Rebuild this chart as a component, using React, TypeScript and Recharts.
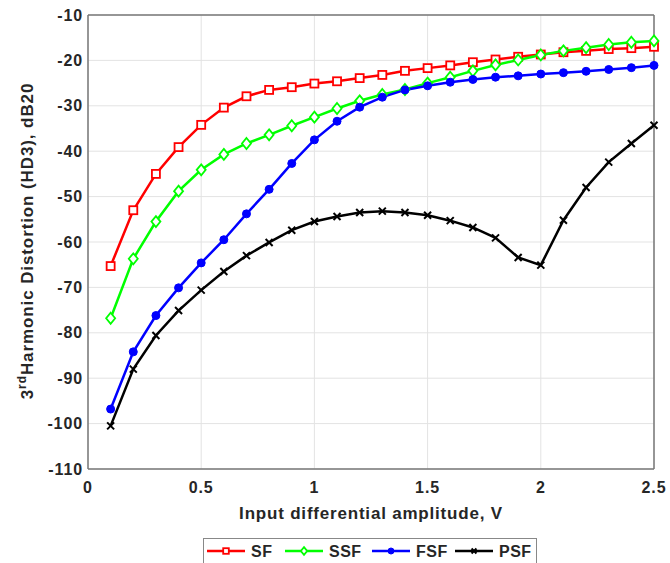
import React from 'react';
import { LineChart, Line, XAxis, YAxis, CartesianGrid } from 'recharts';

const amplitude = [0.1, 0.2, 0.3, 0.4, 0.5, 0.6, 0.7, 0.8, 0.9, 1.0, 1.1, 1.2, 1.3, 1.4, 1.5, 1.6, 1.7, 1.8, 1.9, 2.0, 2.1, 2.2, 2.3, 2.4, 2.5];

const sf = [-65.3, -53, -45, -39.1, -34.2, -30.4, -27.9, -26.5, -25.9, -25.1, -24.6, -23.9, -23.2, -22.3, -21.7, -21.1, -20.4, -19.8, -19.2, -18.7, -18.2, -17.9, -17.5, -17.3, -17.0];
const ssf = [-76.8, -63.7, -55.5, -48.8, -44.1, -40.7, -38.3, -36.4, -34.4, -32.5, -30.6, -28.9, -27.5, -26.4, -25.0, -23.7, -22.3, -21.0, -19.9, -18.8, -17.9, -17.2, -16.5, -16.0, -15.7];
const fsf = [-96.8, -84.2, -76.2, -70.1, -64.6, -59.5, -53.8, -48.4, -42.7, -37.5, -33.4, -30.3, -28.1, -26.5, -25.6, -24.8, -24.2, -23.7, -23.4, -23.0, -22.7, -22.4, -22.0, -21.6, -21.1];
const psf = [-100.5, -88.0, -80.6, -75.1, -70.6, -66.5, -63.0, -60.1, -57.4, -55.5, -54.4, -53.5, -53.2, -53.5, -54.1, -55.3, -56.8, -59.1, -63.4, -65.1, -55.2, -48.0, -42.4, -38.3, -34.3];

const xTicks = [0, 0.5, 1, 1.5, 2, 2.5];
const yTicks = [-110, -100, -90, -80, -70, -60, -50, -40, -30, -20, -10];

const data = amplitude.map((a, i) => ({ a, SF: sf[i], SSF: ssf[i], FSF: fsf[i], PSF: psf[i] }));

const FONT = '"Liberation Sans", Arial, sans-serif';
const TEXT = '#262626';
const AXIS = '#777';

const RED = '#ff0000';
const GREEN = '#00ff00';
const BLUE = '#0000ff';
const BLACK = '#000000';

// marker shapes, s scales the size (legend uses smaller ones)
const square = (color: string, s = 1) => (p: any) => (
  <rect key={p.key} x={p.cx - 4 * s} y={p.cy - 4 * s} width={8 * s} height={8 * s} fill="#fff" stroke={color} strokeWidth={1.8} />
);
const diamond = (color: string, s = 1) => (p: any) => (
  <path key={p.key} d={`M${p.cx},${p.cy - 5.5 * s} L${p.cx + 4.5 * s},${p.cy} L${p.cx},${p.cy + 5.5 * s} L${p.cx - 4.5 * s},${p.cy} Z`} fill="#fff" stroke={color} strokeWidth={1.8} />
);
const circle = (color: string, s = 1) => (p: any) => (
  <circle key={p.key} cx={p.cx} cy={p.cy} r={4 * s} fill={color} stroke={color} />
);
const cross = (color: string, s = 1) => (p: any) => (
  <path key={p.key} d={`M${p.cx - 3.5 * s},${p.cy - 3.5 * s} L${p.cx + 3.5 * s},${p.cy + 3.5 * s} M${p.cx - 3.5 * s},${p.cy + 3.5 * s} L${p.cx + 3.5 * s},${p.cy - 3.5 * s}`} stroke={color} strokeWidth={2} />
);

const series = [
  { key: 'SF', color: RED, dot: square(RED) },
  { key: 'SSF', color: GREEN, dot: diamond(GREEN) },
  { key: 'FSF', color: BLUE, dot: circle(BLUE) },
  { key: 'PSF', color: BLACK, dot: cross(BLACK) },
];

const legendItems = [
  { name: 'SF', x: 207, dot: square(RED, 0.7), color: RED },
  { name: 'SSF', x: 285, dot: diamond(GREEN, 0.7), color: GREEN },
  { name: 'FSF', x: 372, dot: circle(BLUE, 0.75), color: BLUE },
  { name: 'PSF', x: 455, dot: cross(BLACK, 0.7), color: BLACK },
];

const YLabel = () => (
  <text transform="translate(33,241) rotate(-90)" textAnchor="middle" fontFamily={FONT} fontWeight="bold" fontSize={17} letterSpacing={0.9} fill={TEXT}>
    <tspan>3</tspan>
    <tspan dy={-7} fontSize={12}>rd</tspan>
    <tspan dy={7}>Harmonic Distortion (HD3), dB20</tspan>
  </text>
);

const XLabel = () => (
  <text x={371} y={519} textAnchor="middle" fontFamily={FONT} fontWeight="bold" fontSize={17} letterSpacing={0.8} fill={TEXT}>
    Input differential amplitude, V
  </text>
);

const tickStyle = { fontFamily: FONT, fontWeight: 'bold', fontSize: 16, letterSpacing: 0.9, fill: TEXT };

export default function App() {
  return (
    <div style={{ position: 'absolute', left: 0, top: 0, width: 670, height: 563, background: '#fff', overflow: 'hidden' }}>
      <LineChart width={670} height={563} data={data} margin={{ top: 15, right: 16, bottom: 64, left: 0 }}>
        <CartesianGrid stroke="#e3e3e3" strokeWidth={1} />
        <XAxis dataKey="a" type="number" domain={[0, 2.5]} ticks={xTicks} height={30} tickLine={false} tickSize={0} tickMargin={13}
          stroke={AXIS} strokeWidth={1.5} tick={tickStyle} label={<XLabel />} />
        <YAxis type="number" domain={[-110, -10]} ticks={yTicks} width={88} tickLine={false} tickSize={0} tickMargin={5}
          stroke={AXIS} strokeWidth={1.5} tick={tickStyle} label={<YLabel />} />
        {/* inward ticks and the box on all four sides */}
        <XAxis xAxisId="bt" dataKey="a" type="number" domain={[0, 2.5]} ticks={xTicks} orientation="bottom" mirror tick={false} axisLine={false} tickSize={5} stroke={AXIS} />
        <XAxis xAxisId="top" dataKey="a" type="number" domain={[0, 2.5]} ticks={xTicks} orientation="top" mirror tick={false} tickSize={5} stroke={AXIS} strokeWidth={1.5} />
        <YAxis yAxisId="lt" type="number" domain={[-110, -10]} ticks={yTicks} orientation="left" mirror tick={false} axisLine={false} tickSize={5} stroke={AXIS} />
        <YAxis yAxisId="right" type="number" domain={[-110, -10]} ticks={yTicks} orientation="right" mirror tick={false} tickSize={5} stroke={AXIS} strokeWidth={1.5} />
        {series.map(s => (
          <Line key={s.key} dataKey={s.key} type="linear" stroke={s.color} strokeWidth={2.5} dot={s.dot} activeDot={false} isAnimationActive={false} />
        ))}
      </LineChart>
      <svg width={670} height={563} style={{ position: 'absolute', left: 0, top: 0, pointerEvents: 'none' }}>
        <rect x={203.5} y={538.5} width={333} height={40} fill="#fff" stroke="#888" strokeWidth={1} />
        {legendItems.map(it => (
          <g key={it.name}>
            <line x1={it.x} y1={551} x2={it.x + 38} y2={551} stroke={it.color} strokeWidth={2.5} />
            {it.dot({ cx: it.x + 19, cy: 551, key: it.name })}
            <text x={it.x + 44} y={557} fontFamily={FONT} fontWeight="bold" fontSize={16} letterSpacing={0.5} fill={TEXT}>{it.name}</text>
          </g>
        ))}
      </svg>
    </div>
  );
}
